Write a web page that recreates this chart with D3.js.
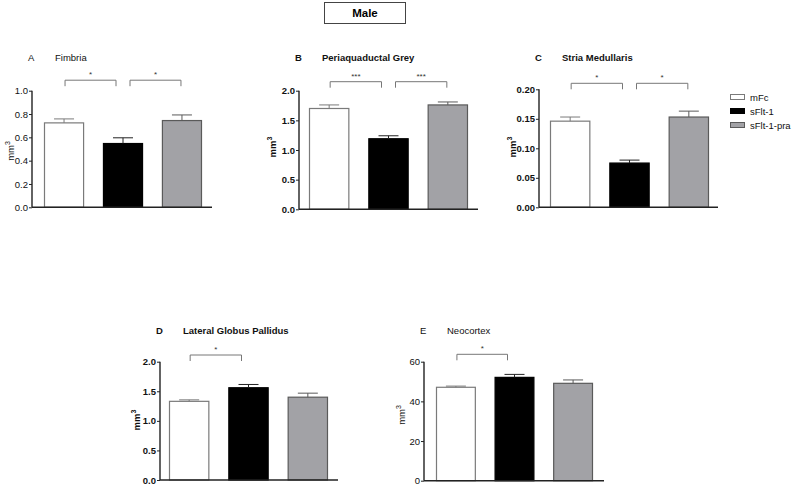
<!DOCTYPE html>
<html><head><meta charset="utf-8">
<script src="https://cdn.jsdelivr.net/npm/d3@7"></script>
<style>body{margin:0;background:#fff}svg{display:block;font-family:"Liberation Sans",Arial,sans-serif}</style>
</head><body><svg id="c" width="798" height="487"></svg>
<script>
// ---- data ----
const groups = ["mFc", "sFlt-1", "sFlt-1-pra"];
const letters = ["A", "B", "C", "D", "E"];
const titles = ["Fimbria", "Periaquaductal Grey", "Stria Medullaris", "Lateral Globus Pallidus", "Neocortex"];
const meansA = [0.724, 0.547, 0.744];
const meansB = [1.70, 1.19, 1.76];
const meansC = [0.146, 0.075, 0.153];
const meansD = [1.33, 1.56, 1.40];
const meansE = [47.1, 52.1, 49.1];
const semA = [0.034, 0.049, 0.048];
const semB = [0.06, 0.05, 0.05];
const semC = [0.007, 0.005, 0.010];
const semD = [0.025, 0.055, 0.068];
const semE = [0.6, 1.5, 1.7];
const yMax = [1.0, 2.0, 0.20, 2.0, 60];
const ticksA = [0, 0.2, 0.4, 0.6, 0.8, 1.0];
const ticksB = [0, 0.5, 1.0, 1.5, 2.0];
const ticksC = [0, 0.05, 0.10, 0.15, 0.20];
const ticksD = [0, 0.5, 1.0, 1.5, 2.0];
const ticksE = [0, 20, 40, 60];
const tickFmt = [".1f", ".1f", ".2f", ".1f", "d"];
const sigA = [[0, 1, "*"], [1, 2, "*"]];
const sigB = [[0, 1, "***"], [1, 2, "***"]];
const sigC = [[0, 1, "*"], [1, 2, "*"]];
const sigD = [[0, 1, "*"]];
const sigE = [[0, 1, "*"]];
const headerLabel = "Male";
const yLabel = "mm";

// ---- layout ----
const layout = [
  {ax: 32, y0: 207.3, yTop: 90.7, b0: 44, b1: 202, axEnd: 212, brk: 10.5, ttlY: 61, ylx: 14, yly: 151, bold: false, tbold: false},
  {ax: 299, y0: 209.3, yTop: 90.7, b0: 309, b1: 468, axEnd: 478, brk: 9, ttlY: 61, ylx: 276, yly: 147, bold: true, tbold: true},
  {ax: 539, y0: 207.3, yTop: 89.3, b0: 550, b1: 709, axEnd: 718, brk: 6, ttlY: 61, ylx: 516, yly: 147, bold: true, tbold: true},
  {ax: 160, y0: 480, yTop: 361.7, b0: 169, b1: 328, axEnd: 338, brk: 6.7, ttlY: 334, ylx: 140, yly: 420, bold: true, tbold: true},
  {ax: 424, y0: 480.7, yTop: 361.7, b0: 436, b1: 593, axEnd: 604, brk: 7.4, ttlY: 334, ylx: 405, yly: 415, bold: false, tbold: false}
];
const means = [meansA, meansB, meansC, meansD, meansE];
const sems = [semA, semB, semC, semD, semE];
const ticks = [ticksA, ticksB, ticksC, ticksD, ticksE];
const sigs = [sigA, sigB, sigC, sigD, sigE];
const fills = ["#ffffff", "#000000", "#a2a2a6"];
const strokes = ["#7a7a7a", "#000000", "#5a5a5a"];

const svg = d3.select("#c");

// header
svg.append("rect").attr("x", 324.5).attr("y", 2.5).attr("width", 81).attr("height", 21)
  .attr("fill", "#fff").attr("stroke", "#444").attr("stroke-width", 1);
svg.append("text").attr("x", 365).attr("y", 17).attr("text-anchor", "middle")
  .attr("font-size", 11.5).attr("font-weight", "bold").text(headerLabel);

layout.forEach((L, i) => {
  const g = svg.append("g");
  const y = d3.scaleLinear().domain([0, yMax[i]]).range([L.y0, L.yTop]);
  const x = d3.scaleBand().domain(groups).range([L.b0, L.b1]).paddingInner(0.32).paddingOuter(0);
  const data = groups.map((k, j) => ({k, j, m: means[i][j], s: sems[i][j]}));

  // bars
  g.selectAll("rect.bar").data(data).join("rect").attr("class", "bar")
    .attr("x", d => x(d.k) + 0.5).attr("width", x.bandwidth() - 1)
    .attr("y", d => y(d.m)).attr("height", d => L.y0 - y(d.m))
    .attr("fill", d => fills[d.j]).attr("stroke", d => strokes[d.j]).attr("stroke-width", 1.2);

  // error bars
  data.forEach(d => {
    const cx = x(d.k) + x.bandwidth() / 2;
    const c = strokes[d.j] === "#000000" ? "#222" : strokes[d.j];
    g.append("line").attr("x1", cx).attr("x2", cx).attr("y1", y(d.m)).attr("y2", y(d.m + d.s))
      .attr("stroke", c).attr("stroke-width", 1);
    g.append("line").attr("x1", cx - 10).attr("x2", cx + 10).attr("y1", y(d.m + d.s)).attr("y2", y(d.m + d.s))
      .attr("stroke", c).attr("stroke-width", 1);
  });

  // y axis
  const ax = g.append("g").attr("transform", `translate(${L.ax},0)`)
    .call(d3.axisLeft(y).tickValues(ticks[i]).tickFormat(d3.format(tickFmt[i])).tickSize(3).tickPadding(1));
  ax.select(".domain").attr("stroke", "#222").attr("stroke-width", 1.4).attr("d", `M0,${L.yTop}V${L.y0}`);
  ax.selectAll(".tick line").attr("stroke", "#222");
  ax.selectAll(".tick text").attr("font-size", 9.5).attr("fill", "#111")
    .attr("font-family", "Liberation Sans, Arial, sans-serif")
    .attr("font-weight", L.tbold ? "bold" : "normal");

  // x axis line
  g.append("line").attr("x1", L.ax).attr("x2", L.axEnd).attr("y1", L.y0).attr("y2", L.y0)
    .attr("stroke", "#222").attr("stroke-width", 1.4);

  // y label
  const yl = g.append("text").attr("transform", `translate(${L.ylx},${L.yly}) rotate(-90)`)
    .attr("text-anchor", "middle").attr("font-size", 9.5).attr("fill", "#111")
    .attr("font-weight", L.bold ? "bold" : "normal");
  yl.append("tspan").text(yLabel);
  yl.append("tspan").attr("dy", -4).attr("font-size", 7).text("3");

  // title
  g.append("text").attr("x", L.ax - 4).attr("y", L.ttlY).attr("font-size", 9.5)
    .attr("font-weight", L.bold ? "bold" : "normal").attr("fill", "#111").text(letters[i]);
  g.append("text").attr("x", L.ax + 23).attr("y", L.ttlY).attr("font-size", 9.5)
    .attr("font-weight", L.bold ? "bold" : "normal").attr("fill", "#111").text(titles[i]);

  // significance brackets (inner ends inset from the shared middle bar)
  const by = L.yTop - L.brk;
  sigs[i].forEach(([a, b, lab]) => {
    let xa = x(groups[a]) + x.bandwidth() / 2;
    let xb = x(groups[b]) + x.bandwidth() / 2;
    if (a === 1) xa += 7; else xa += 1;
    if (b === 1) xb -= 7; else xb -= 1;
    g.append("path").attr("d", `M${xa},${by + 6}V${by}H${xb}V${by + 6}`)
      .attr("fill", "none").attr("stroke", "#777").attr("stroke-width", 1);
    g.append("text").attr("x", (xa + xb) / 2).attr("y", by - 3).attr("text-anchor", "middle")
      .attr("font-size", 8).attr("fill", "#333").text(lab);
  });
});

// legend
const lg = svg.append("g").attr("transform", "translate(730,94)");
groups.forEach((k, j) => {
  lg.append("rect").attr("x", 0.5).attr("y", j * 14 + 0.5).attr("width", 14).attr("height", 5)
    .attr("fill", fills[j]).attr("stroke", strokes[j]).attr("stroke-width", 1);
  lg.append("text").attr("x", 20).attr("y", j * 14 + 6.5).attr("font-size", 9.5).attr("fill", "#111").text(k);
});
</script></body></html>
